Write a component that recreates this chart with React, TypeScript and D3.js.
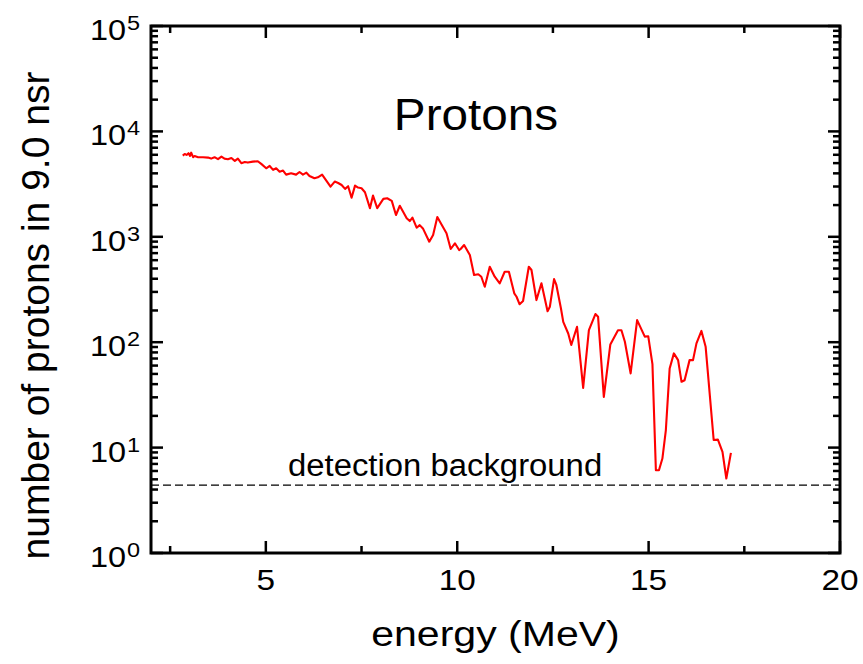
import React from "react";
import * as d3 from "d3";

const energy = [
  2.83, 2.88, 2.93, 2.98, 3.02, 3.05, 3.10, 3.14, 3.23, 3.36, 3.49, 3.57, 3.66, 3.75, 3.84, 3.92,
  4.01, 4.10, 4.19, 4.27, 4.36, 4.45, 4.53, 4.66, 4.79, 4.88, 5.01, 5.10, 5.19, 5.27, 5.36, 5.45,
  5.53, 5.66, 5.79, 5.88, 5.97, 6.06, 6.14, 6.27, 6.36, 6.47, 6.58, 6.69, 6.80, 6.89, 6.98, 7.07,
  7.15, 7.24, 7.33, 7.41, 7.50, 7.59, 7.72, 7.80, 7.91, 8.07, 8.17, 8.29, 8.40, 8.50, 8.68, 8.76,
  8.83, 8.94, 9.02, 9.11, 9.27, 9.37, 9.48, 9.59, 9.72, 9.83, 9.94, 10.05, 10.09, 10.18, 10.33,
  10.44, 10.55, 10.63, 10.72, 10.85, 10.98, 11.11, 11.24, 11.35, 11.49, 11.55, 11.63, 11.72, 11.87,
  11.94, 12.07, 12.20, 12.36, 12.42, 12.53, 12.59, 12.71, 12.77, 12.90, 12.98, 13.13, 13.29, 13.44,
  13.61, 13.68, 13.83, 14.00, 14.20, 14.29, 14.38, 14.53, 14.70, 14.90, 14.99, 15.10, 15.19, 15.27,
  15.36, 15.45, 15.55, 15.66, 15.77, 15.86, 15.94, 16.07, 16.16, 16.25, 16.38, 16.49, 16.70, 16.81,
  16.93, 17.03, 17.15,
];
const counts = [
  5890, 6110, 5980, 6210, 5850, 6290, 5690, 5850, 5690, 5690, 5640, 5520, 5690, 5450, 5770, 5520,
  5450, 5600, 5250, 5520, 4990, 5130, 5060, 5170, 5210, 4920, 4470, 4700, 4310, 4470, 4150, 4250,
  3890, 4010, 3890, 4120, 3890, 4060, 3780, 3590, 3670, 3890, 3410, 2990, 3340, 3240, 3100, 2850,
  3020, 2350, 3060, 2930, 2890, 2650, 1870, 2460, 1870, 2290, 2320, 2190, 1610, 1970, 1500, 1410,
  1520, 1220, 1290, 1190, 899, 1040, 1540, 1310, 1080, 766, 868, 749, 766, 836, 672,
  434, 441, 418, 336, 520, 418, 362, 466, 466, 291, 270, 229, 246, 520,
  484, 251, 362, 197, 217, 397, 349, 209, 156, 121, 94, 140, 36.9, 130,
  185, 174, 30.3, 95.3, 130, 130, 101, 50.6, 162, 113, 114, 62, 6.1, 6.1,
  7.88, 14.6, 56.4, 78.3, 67.6, 42.1, 43.6, 67.6, 67.6, 97.5, 128, 90.4, 11.8, 11.9,
  9.1, 5.09, 8.9,
];

const xMajorTicks = [5, 10, 15, 20];
const xMinorTicks = [2.5, 7.5, 12.5, 17.5];
const yDecades = [0, 1, 2, 3, 4, 5];
const yMinorMultipliers = [2, 3, 4, 5, 6, 7, 8, 9];
const backgroundLevel = 4.4;
const titleText = "Protons";
const backgroundLabel = "detection background";
const xTitle = "energy (MeV)";
const yTitle = "number of protons in 9.0 nsr";

const W = 863;
const H = 664;
const left = 151;
const right = 840;
const top = 26;
const bottom = 553;
const FONT = "'Liberation Sans', Arial, Helvetica, sans-serif";

function T(props: {
  x: number;
  y: number;
  size: number;
  sx?: number;
  anchor?: string;
  children: React.ReactNode;
}) {
  const { x, y, size, sx = 1, anchor = "start", children } = props;
  return (
    <text
      transform={`translate(${x},${y}) scale(${sx},1)`}
      fontSize={size}
      textAnchor={anchor}
      fill="#000"
    >
      {children}
    </text>
  );
}

export default function App() {
  const x = d3.scaleLinear().domain([2, 20]).range([left, right]);
  const y = d3.scaleLog().domain([1, 1e5]).range([bottom, top]);
  const pts: [number, number][] = energy.map((e, i) => [e, counts[i]]);
  const line = d3
    .line<[number, number]>()
    .x((d) => x(d[0]))
    .y((d) => y(d[1]));

  const yMinor: number[] = [];
  yDecades.slice(0, -1).forEach((k) =>
    yMinorMultipliers.forEach((m) => yMinor.push(m * Math.pow(10, k)))
  );

  const majorLen = 12;
  const minorLen = 7;
  const tickW = 2.5;

  return (
    <svg
      width={W}
      height={H}
      style={{ position: "absolute", left: 0, top: 0, background: "#fff" }}
      fontFamily={FONT}
    >
      <rect x={0} y={0} width={W} height={H} fill="#fff" />
      <path d={line(pts) || ""} fill="none" stroke="#ff0000" strokeWidth={2.1} strokeLinejoin="round" />
      <line
        x1={left}
        x2={right}
        y1={y(backgroundLevel)}
        y2={y(backgroundLevel)}
        stroke="#000"
        strokeWidth={1.3}
        strokeDasharray="8,4"
      />
      <T x={288} y={476} size={31} sx={1.06}>
        {backgroundLabel}
      </T>
      <T x={476} y={130} size={45} sx={1.06} anchor="middle">
        {titleText}
      </T>

      {xMajorTicks.map((t) => (
        <g key={"xm" + t}>
          <line x1={x(t)} x2={x(t)} y1={bottom} y2={bottom - majorLen} stroke="#000" strokeWidth={tickW} />
          <line x1={x(t)} x2={x(t)} y1={top} y2={top + majorLen} stroke="#000" strokeWidth={tickW} />
          <T x={x(t)} y={590} size={29} sx={1.15} anchor="middle">
            {t}
          </T>
        </g>
      ))}
      {xMinorTicks.map((t) => (
        <g key={"xn" + t}>
          <line x1={x(t)} x2={x(t)} y1={bottom} y2={bottom - minorLen} stroke="#000" strokeWidth={tickW} />
          <line x1={x(t)} x2={x(t)} y1={top} y2={top + minorLen} stroke="#000" strokeWidth={tickW} />
        </g>
      ))}

      {yDecades.map((k) => {
        const v = Math.pow(10, k);
        const yy = y(v);
        return (
          <g key={"ym" + k}>
            <line x1={left} x2={left + majorLen} y1={yy} y2={yy} stroke="#000" strokeWidth={tickW} />
            <line x1={right} x2={right - majorLen} y1={yy} y2={yy} stroke="#000" strokeWidth={tickW} />
            <T x={126} y={yy + 14} size={29} sx={1.12} anchor="end">
              10
            </T>
            <T x={127} y={yy + 4} size={21} sx={1.12}>
              {k}
            </T>
          </g>
        );
      })}
      {yMinor.map((v, i) => (
        <g key={"yn" + i}>
          <line x1={left} x2={left + minorLen} y1={y(v)} y2={y(v)} stroke="#000" strokeWidth={tickW} />
          <line x1={right} x2={right - minorLen} y1={y(v)} y2={y(v)} stroke="#000" strokeWidth={tickW} />
        </g>
      ))}

      <rect x={left} y={top} width={right - left} height={bottom - top} fill="none" stroke="#000" strokeWidth={3} />

      <T x={(left + right) / 2} y={646} size={36} sx={1.14} anchor="middle">
        {xTitle}
      </T>
      <text
        transform={`translate(49, ${(top + bottom) / 2 + 26}) rotate(-90)`}
        fontSize={39}
        textAnchor="middle"
        fill="#000"
      >
        {yTitle}
      </text>
    </svg>
  );
}
